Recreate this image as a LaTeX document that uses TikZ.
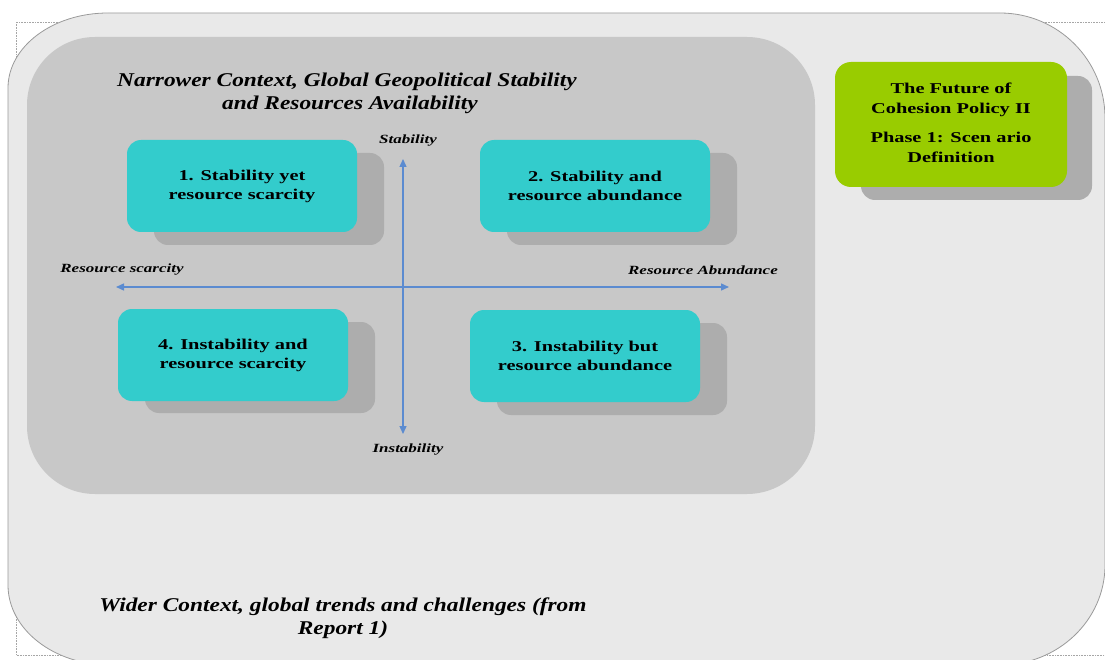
\documentclass[tikz,border=0pt]{standalone}
\usepackage{fontspec}
\setmainfont{Liberation Serif}
\newfontfamily\widebox[FakeStretch=1.36]{Liberation Serif}
\newfontfamily\widettl[FakeStretch=1.2]{Liberation Serif}
\usetikzlibrary{arrows.meta}
\definecolor{outerfill}{HTML}{E9E9E9}
\definecolor{outerline}{HTML}{9A9A9A}
\definecolor{innerfill}{HTML}{C8C8C8}
\definecolor{shadowc}{HTML}{ADADAD}
\definecolor{cyanbox}{HTML}{33CCCC}
\definecolor{greenbox}{HTML}{99CC00}
\definecolor{axisblue}{HTML}{5B8BD0}
\tikzset{
  scen/.style={fill=cyanbox, rounded corners=14pt, minimum width=230pt, minimum height=92pt,
    align=center, font=\widebox\fontsize{15}{19}\selectfont\bfseries, inner sep=0pt},
  shad/.style={fill=shadowc, rounded corners=14pt},
  axislbl/.style={font=\widebox\fontsize{12.5}{14}\selectfont\bfseries\itshape, inner sep=0pt},
  axis/.style={draw=axisblue, line width=1.4pt, {Triangle[length=8pt,width=7pt]}-{Triangle[length=8pt,width=7pt]}},
  ttl/.style={font=\widettl\fontsize{19.5}{23}\selectfont\bfseries\itshape, align=center, inner sep=0pt}
}
\begin{document}
\begin{tikzpicture}[x=1pt,y=-1pt]
\useasboundingbox (0,0) rectangle (1105,660);
% dotted frame
\draw[gray!70, densely dotted, line width=0.6pt] (16,22) rectangle (1112,655);
% outer shape
\path[fill=outerfill, draw=outerline, line width=0.8pt]
  (8,88) arc[start angle=180, end angle=270, x radius=100, y radius=75]
  -- (1000,13) arc[start angle=270, end angle=360, x radius=105, y radius=105]
  -- (1105,565) arc[start angle=0, end angle=90, x radius=105, y radius=100]
  -- (110,665) arc[start angle=90, end angle=180, x radius=102, y radius=80] -- cycle;
% inner context box
\fill[innerfill, rounded corners=68pt] (27,37) rectangle (815,494);
\node[ttl] (title) at (347,93) {Narrower Context, Global Geopolitical Stability\\\hspace*{6pt}and Resources Availability};
% scenario boxes
\fill[shad] (154,153) rectangle (384,245);
\node[scen] (s1) at (242,186) {1. Stability yet\\resource scarcity};
\fill[shad] (507,153) rectangle (737,245);
\node[scen] (s2) at (595,186) {2. Stability and\\resource abundance};
\fill[shad] (145,322) rectangle (375,413);
\node[scen] (s4) at (233,355) {4. Instability and\\resource scarcity};
\fill[shad] (497,323) rectangle (727,415);
\node[scen] (s3) at (585,356) {3. Instability but\\resource abundance};
% axes
\coordinate (top) at (403,159);
\coordinate (bot) at (403,434);
\coordinate (lft) at (116,287);
\coordinate (rgt) at (729,287);
\draw[axis] (top) -- (bot);
\draw[axis] (lft) -- (rgt);
\node[axislbl] (lstab) at (408,141) {Stability};
\node[axislbl] (linst) at (408,450) {Instability};
\node[axislbl] (lscar) at (122,270) {Resource scarcity};
\node[axislbl] (labun) at (703,270) {Resource Abundance};
% green box
\fill[shad] (861,76) rectangle (1092,200);
\node[fill=greenbox, rounded corners=16pt, minimum width=232pt, minimum height=125pt, inner sep=0pt,
  align=center, font=\widebox\fontsize{15}{20}\selectfont\bfseries] (green) at (951,124.5)
  {\raisebox{6pt}{\begin{tabular}{@{}c@{}}The Future of\\Cohesion Policy II\\[9pt]Phase 1: Scen ario\\Definition\end{tabular}}};
% wider context label
\node[ttl] (wider) at (343,618) {Wider Context, global trends and challenges (from\\Report 1)};
\end{tikzpicture}
\end{document}
